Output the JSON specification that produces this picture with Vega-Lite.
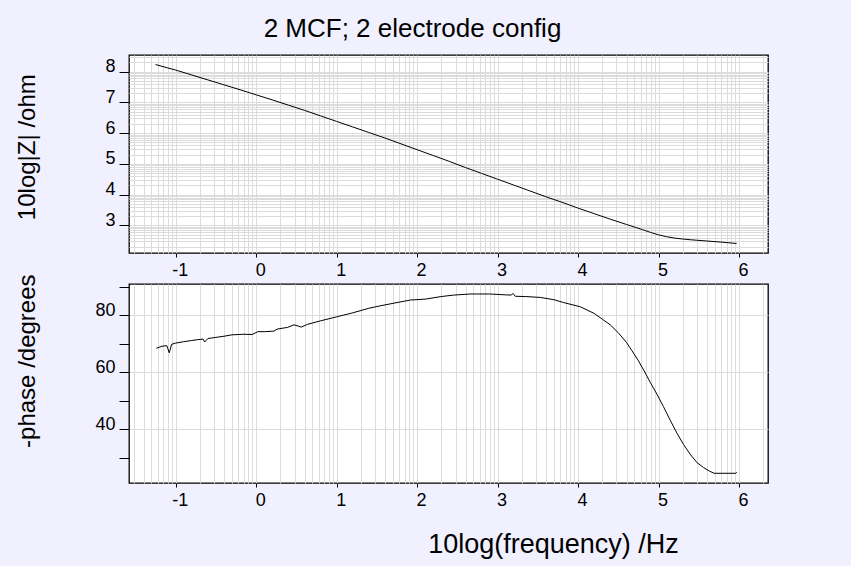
{
  "$schema": "https://vega.github.io/schema/vega-lite/v6.json",
  "background": "#F0F0FF",
  "padding": {"left": 14, "top": 16, "right": 84, "bottom": 12},
  "title": {"text": "2 MCF; 2 electrode config", "fontSize": 26, "font": "Liberation Sans", "fontWeight": "normal", "color": "#000000", "anchor": "middle", "frame": "group", "dx": -36, "offset": 12},
  "spacing": 31,
  "bounds": "flush",
  "datasets": {
    "z": [
      {"logf": -1.25, "logZ": 8.23}, {"logf": -1.1, "logZ": 8.12}, {"logf": -1.0, "logZ": 8.05},
      {"logf": -0.8, "logZ": 7.89}, {"logf": -0.6, "logZ": 7.73}, {"logf": -0.4, "logZ": 7.57},
      {"logf": -0.2, "logZ": 7.41}, {"logf": 0.0, "logZ": 7.245}, {"logf": 0.2, "logZ": 7.08},
      {"logf": 0.4, "logZ": 6.91}, {"logf": 0.6, "logZ": 6.74}, {"logf": 0.8, "logZ": 6.56},
      {"logf": 1.0, "logZ": 6.38}, {"logf": 1.2, "logZ": 6.2}, {"logf": 1.4, "logZ": 6.02},
      {"logf": 1.6, "logZ": 5.84}, {"logf": 1.8, "logZ": 5.65}, {"logf": 2.0, "logZ": 5.46},
      {"logf": 2.2, "logZ": 5.27}, {"logf": 2.4, "logZ": 5.08}, {"logf": 2.6, "logZ": 4.88},
      {"logf": 2.8, "logZ": 4.69}, {"logf": 3.0, "logZ": 4.5}, {"logf": 3.2, "logZ": 4.31},
      {"logf": 3.4, "logZ": 4.12}, {"logf": 3.6, "logZ": 3.93}, {"logf": 3.8, "logZ": 3.75},
      {"logf": 4.0, "logZ": 3.56}, {"logf": 4.2, "logZ": 3.38}, {"logf": 4.4, "logZ": 3.2},
      {"logf": 4.6, "logZ": 3.03}, {"logf": 4.8, "logZ": 2.86}, {"logf": 4.9, "logZ": 2.77},
      {"logf": 5.0, "logZ": 2.69}, {"logf": 5.1, "logZ": 2.63}, {"logf": 5.2, "logZ": 2.585},
      {"logf": 5.3, "logZ": 2.555}, {"logf": 5.4, "logZ": 2.53},
      {"logf": 5.6, "logZ": 2.49}, {"logf": 5.8, "logZ": 2.45}, {"logf": 5.97, "logZ": 2.41}
    ],
    "phase": [
      {"logf": -1.24, "phase": 68.4}, {"logf": -1.17, "phase": 69.1}, {"logf": -1.11, "phase": 69.3},
      {"logf": -1.08, "phase": 66.8}, {"logf": -1.05, "phase": 69.8}, {"logf": -1.0, "phase": 70.2},
      {"logf": -0.9, "phase": 70.7}, {"logf": -0.8, "phase": 71.1}, {"logf": -0.73, "phase": 71.4},
      {"logf": -0.66, "phase": 71.6}, {"logf": -0.64, "phase": 70.6}, {"logf": -0.6, "phase": 71.8},
      {"logf": -0.5, "phase": 72.2}, {"logf": -0.4, "phase": 72.6}, {"logf": -0.3, "phase": 73.1},
      {"logf": -0.15, "phase": 73.3}, {"logf": -0.05, "phase": 73.2}, {"logf": 0.02, "phase": 74.2},
      {"logf": 0.1, "phase": 74.2}, {"logf": 0.22, "phase": 74.4}, {"logf": 0.26, "phase": 75.1},
      {"logf": 0.39, "phase": 75.7}, {"logf": 0.47, "phase": 76.6}, {"logf": 0.52, "phase": 76.2},
      {"logf": 0.56, "phase": 75.8}, {"logf": 0.64, "phase": 76.8}, {"logf": 0.8, "phase": 78.0},
      {"logf": 1.0, "phase": 79.4}, {"logf": 1.2, "phase": 80.8}, {"logf": 1.4, "phase": 82.4},
      {"logf": 1.55, "phase": 83.3}, {"logf": 1.75, "phase": 84.4}, {"logf": 1.92, "phase": 85.3},
      {"logf": 2.1, "phase": 85.6}, {"logf": 2.3, "phase": 86.5}, {"logf": 2.45, "phase": 87.0},
      {"logf": 2.66, "phase": 87.4}, {"logf": 2.9, "phase": 87.4}, {"logf": 3.1, "phase": 87.1},
      {"logf": 3.17, "phase": 87.0}, {"logf": 3.19, "phase": 87.6}, {"logf": 3.22, "phase": 86.6},
      {"logf": 3.35, "phase": 86.5}, {"logf": 3.53, "phase": 86.2}, {"logf": 3.7, "phase": 85.4},
      {"logf": 3.82, "phase": 84.4}, {"logf": 4.03, "phase": 82.9}, {"logf": 4.2, "phase": 80.6},
      {"logf": 4.3, "phase": 78.6}, {"logf": 4.4, "phase": 76.6}, {"logf": 4.5, "phase": 73.8},
      {"logf": 4.6, "phase": 70.5}, {"logf": 4.67, "phase": 67.5}, {"logf": 4.75, "phase": 64.0},
      {"logf": 4.82, "phase": 60.5}, {"logf": 4.9, "phase": 56.3}, {"logf": 4.98, "phase": 52.3},
      {"logf": 5.06, "phase": 48.0}, {"logf": 5.15, "phase": 42.9}, {"logf": 5.23, "phase": 38.6},
      {"logf": 5.31, "phase": 34.7}, {"logf": 5.4, "phase": 31.0}, {"logf": 5.48, "phase": 28.3},
      {"logf": 5.56, "phase": 26.6}, {"logf": 5.63, "phase": 25.4}, {"logf": 5.69, "phase": 24.6},
      {"logf": 5.8, "phase": 24.6}, {"logf": 5.96, "phase": 24.6}, {"logf": 5.97, "phase": 25.0}
    ]
  },
  "vconcat": [
    {
      "width": 639,
      "height": 198,
      "data": {"name": "z"},
      "layer": [
        {
          "mark": {"type": "line", "opacity": 0},
          "encoding": {
            "x": {"field": "logf", "type": "quantitative", "scale": {"domain": [-1.58, 6.36], "nice": false, "zero": false},
              "axis": {"orient": "top", "title": null, "labels": false, "ticks": false, "domain": false, "grid": true, "gridColor": "#DCDCDC", "gridWidth": 1,
                "values": [-1.52288, -1.39794, -1.30103, -1.22185, -1.1549, -1.09691, -1.04576,
                  -1, -0.69897, -0.52288, -0.39794, -0.30103, -0.22185, -0.1549, -0.09691, -0.04576,
                  0, 0.30103, 0.47712, 0.60206, 0.69897, 0.77815, 0.8451, 0.90309, 0.95424,
                  1, 1.30103, 1.47712, 1.60206, 1.69897, 1.77815, 1.8451, 1.90309, 1.95424,
                  2, 2.30103, 2.47712, 2.60206, 2.69897, 2.77815, 2.8451, 2.90309, 2.95424,
                  3, 3.30103, 3.47712, 3.60206, 3.69897, 3.77815, 3.8451, 3.90309, 3.95424,
                  4, 4.30103, 4.47712, 4.60206, 4.69897, 4.77815, 4.8451, 4.90309, 4.95424,
                  5, 5.30103, 5.47712, 5.60206, 5.69897, 5.77815, 5.8451, 5.90309, 5.95424,
                  6, 6.30103]}},
            "y": {"field": "logZ", "type": "quantitative", "scale": {"domain": [2.1, 8.54], "nice": false, "zero": false},
              "axis": {"orient": "right", "title": null, "labels": false, "ticks": false, "domain": false, "grid": true, "gridColor": "#DCDCDC", "gridWidth": 1,
                "values": [2.30103, 2.47712, 2.60206, 2.69897, 2.77815, 2.8451, 2.90309, 2.95424,
                  3, 3.30103, 3.47712, 3.60206, 3.69897, 3.77815, 3.8451, 3.90309, 3.95424,
                  4, 4.30103, 4.47712, 4.60206, 4.69897, 4.77815, 4.8451, 4.90309, 4.95424,
                  5, 5.30103, 5.47712, 5.60206, 5.69897, 5.77815, 5.8451, 5.90309, 5.95424,
                  6, 6.30103, 6.47712, 6.60206, 6.69897, 6.77815, 6.8451, 6.90309, 6.95424,
                  7, 7.30103, 7.47712, 7.60206, 7.69897, 7.77815, 7.8451, 7.90309, 7.95424,
                  8, 8.30103, 8.47712]}}
          }
        },
        {
          "mark": {"type": "line", "color": "#000000", "strokeWidth": 1},
          "encoding": {
            "x": {"field": "logf", "type": "quantitative", "scale": {"domain": [-1.58, 6.36], "nice": false, "zero": false},
              "axis": {"orient": "bottom", "title": null, "grid": false, "domain": false, "values": [-1, 0, 1, 2, 3, 4, 5, 6],
                "labelExpr": "toString(datum.value)",
                "tickSize": 4, "tickColor": "#000000", "labelOffset": 4, "labelBaseline": "alphabetic", "labelPadding": 18.4, "labelFlush": false,
                "labelFont": "Liberation Sans", "labelFontSize": 18, "labelColor": "#000000"}},
            "y": {"field": "logZ", "type": "quantitative", "scale": {"domain": [2.1, 8.54], "nice": false, "zero": false},
              "axis": {"orient": "left", "title": "10log|Z| /ohm", "grid": false, "domain": false, "values": [3, 4, 5, 6, 7, 8],
                "tickSize": 10, "tickColor": "#000000", "labelBaseline": "alphabetic", "labelPadding": 4, "labelFlush": false,
                "labelFont": "Liberation Sans", "labelFontSize": 18, "labelColor": "#000000",
                "titleX": -95, "titleY": 91.7, "titleBaseline": "alphabetic", "titleFontSize": 24}}
          }
        }
      ],
      "resolve": {"axis": {"x": "independent", "y": "independent"}}
    },
    {
      "width": 639,
      "height": 199,
      "data": {"name": "phase"},
      "layer": [
        {
          "mark": {"type": "line", "opacity": 0},
          "encoding": {
            "x": {"field": "logf", "type": "quantitative", "scale": {"domain": [-1.58, 6.36], "nice": false, "zero": false},
              "axis": {"orient": "top", "title": null, "labels": false, "ticks": false, "domain": false, "grid": true, "gridColor": "#DCDCDC", "gridWidth": 1,
                "values": [-1.52288, -1.39794, -1.30103, -1.22185, -1.1549, -1.09691, -1.04576,
                  -1, -0.69897, -0.52288, -0.39794, -0.30103, -0.22185, -0.1549, -0.09691, -0.04576,
                  0, 0.30103, 0.47712, 0.60206, 0.69897, 0.77815, 0.8451, 0.90309, 0.95424,
                  1, 1.30103, 1.47712, 1.60206, 1.69897, 1.77815, 1.8451, 1.90309, 1.95424,
                  2, 2.30103, 2.47712, 2.60206, 2.69897, 2.77815, 2.8451, 2.90309, 2.95424,
                  3, 3.30103, 3.47712, 3.60206, 3.69897, 3.77815, 3.8451, 3.90309, 3.95424,
                  4, 4.30103, 4.47712, 4.60206, 4.69897, 4.77815, 4.8451, 4.90309, 4.95424,
                  5, 5.30103, 5.47712, 5.60206, 5.69897, 5.77815, 5.8451, 5.90309, 5.95424,
                  6, 6.30103]}},
            "y": {"field": "phase", "type": "quantitative", "scale": {"domain": [21.2, 90.9], "nice": false, "zero": false},
              "axis": {"orient": "right", "title": null, "labels": false, "ticks": false, "domain": false, "grid": true, "gridColor": "#DCDCDC", "gridWidth": 1,
                "values": [40, 60, 80]}}
          }
        },
        {
          "mark": {"type": "line", "color": "#000000", "strokeWidth": 1},
          "encoding": {
            "x": {"field": "logf", "type": "quantitative", "scale": {"domain": [-1.58, 6.36], "nice": false, "zero": false},
              "axis": {"orient": "bottom", "title": "10log(frequency) /Hz", "grid": false, "domain": false, "values": [-1, 0, 1, 2, 3, 4, 5, 6],
                "labelExpr": "toString(datum.value)",
                "tickSize": 4, "tickColor": "#000000", "labelOffset": 4, "labelBaseline": "alphabetic", "labelPadding": 18.4, "labelFlush": false,
                "labelFont": "Liberation Sans", "labelFontSize": 18, "labelColor": "#000000",
                "titleX": 424, "titleY": 69.7, "titleBaseline": "alphabetic", "titleFontSize": 27}},
            "y": {"field": "phase", "type": "quantitative", "scale": {"domain": [21.2, 90.9], "nice": false, "zero": false},
              "axis": {"orient": "left", "title": "-phase /degrees", "grid": false, "domain": false, "values": [30, 40, 50, 60, 70, 80, 90],
                "labelExpr": "datum.value % 20 == 0 ? datum.label : ''",
                "tickSize": 10, "tickColor": "#000000", "labelBaseline": "alphabetic", "labelPadding": 4, "labelFlush": false,
                "labelFont": "Liberation Sans", "labelFontSize": 18, "labelColor": "#000000",
                "titleX": -95, "titleY": 76.7, "titleBaseline": "alphabetic", "titleFontSize": 24}}
          }
        }
      ],
      "resolve": {"axis": {"x": "independent", "y": "independent"}}
    }
  ],
  "config": {
    "font": "Liberation Sans",
    "view": {"stroke": "#000000", "strokeWidth": 1.3, "fill": "#FFFFFF"},
    "axis": {"labelFont": "Liberation Sans", "titleFont": "Liberation Sans", "labelColor": "#000000", "titleColor": "#000000",
      "labelFontSize": 18, "titleFontWeight": "normal", "labelOverlap": false}
  }
}
